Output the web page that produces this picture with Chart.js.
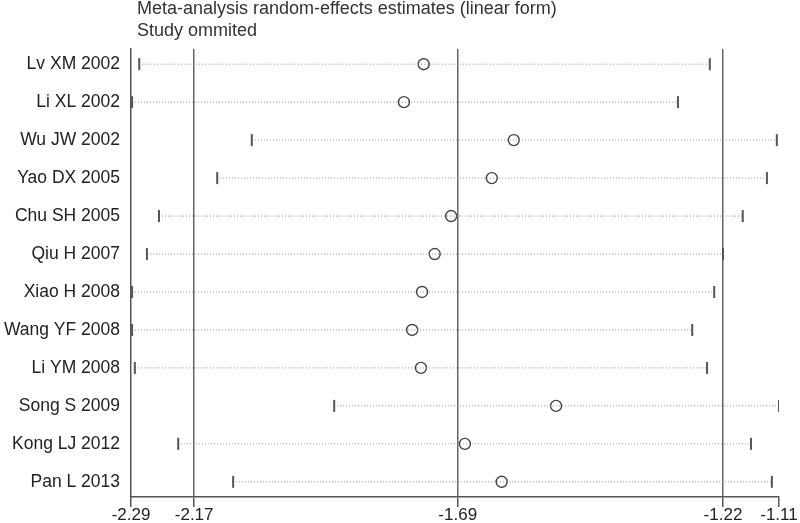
<!DOCTYPE html>
<html>
<head>
<meta charset="utf-8">
<script src="https://cdn.jsdelivr.net/npm/chart.js@4/dist/chart.umd.min.js"></script>
<style>
  html, body { margin: 0; padding: 0; background: #fff; }
  canvas { display: block; }
</style>
</head>
<body>
<canvas id="infChart" width="800" height="523"></canvas>
<script>
// Influence analysis: estimate with one study omitted
const studies = [
    "Lv XM 2002", "Li XL 2002", "Wu JW 2002", "Yao DX 2005",
    "Chu SH 2005", "Qiu H 2007", "Xiao H 2008", "Wang YF 2008",
    "Li YM 2008", "Song S 2009", "Kong LJ 2012", "Pan L 2013"
];
const lowerCI = [-2.275, -2.288, -2.070, -2.133, -2.239, -2.261, -2.288, -2.288, -2.283, -1.920, -2.204, -2.104];
const estimates = [-1.757, -1.793, -1.593, -1.633, -1.707, -1.737, -1.760, -1.778, -1.762, -1.516, -1.682, -1.615];
const upperCI = [-1.236, -1.294, -1.114, -1.132, -1.176, -1.212, -1.228, -1.268, -1.241, -1.110, -1.161, -1.123];

// x axis: ends, overall lower CI, overall estimate, overall upper CI
const tickValues = [-2.29, -2.175, -1.695, -1.212, -1.11];
const tickLabels = ["-2.29", "-2.17", "-1.69", "-1.22", "-1.11"];

const titleLines = ["Meta-analysis random-effects estimates (linear form)", "Study ommited"];

const FONT = '"Liberation Sans", Arial, sans-serif';

// one dotted line per study, with end caps
const ciSets = studies.map((name, i) => ({
    label: name,
    data: [{ x: lowerCI[i], y: i + 1 }, { x: upperCI[i], y: i + 1 }],
    borderColor: "#8f8f8f",
    borderWidth: 1,
    borderDash: [1, 2],
    pointStyle: "line",
    rotation: 90,
    pointRadius: 6,
    pointBorderColor: "#555",
    pointBorderWidth: 2,
    fill: false
}));

const estSet = {
    label: "Estimate",
    data: estimates.map((v, i) => ({ x: v, y: i + 1 })),
    showLine: false,
    pointStyle: "circle",
    pointRadius: 5.5,
    pointBorderColor: "#444",
    pointBorderWidth: 1.4,
    pointBackgroundColor: "rgba(0,0,0,0)"
};

const headerPlugin = {
    id: "header",
    afterDraw(chart) {
        const ctx = chart.ctx;
        ctx.save();
        ctx.font = "18px " + FONT;
        ctx.fillStyle = "#333";
        ctx.textAlign = "left";
        ctx.textBaseline = "alphabetic";
        ctx.fillText(titleLines[0], 137, 14);
        ctx.fillText(titleLines[1], 137, 36);
        ctx.restore();
    }
};

new Chart(document.getElementById("infChart").getContext("2d"), {
    type: "line",
    data: { datasets: [...ciSets, estSet] },
    plugins: [headerPlugin],
    options: {
        responsive: false,
        animation: false,
        events: [],
        layout: { padding: { top: 49, right: 21, left: 0, bottom: 0 } },
        plugins: {
            legend: { display: false },
            tooltip: { enabled: false },
            title: { display: false }
        },
        scales: {
            x: {
                type: "linear",
                min: -2.29,
                max: -1.11,
                afterBuildTicks: (scale) => {
                    scale.ticks = tickValues.map(v => ({ value: v }));
                },
                afterFit: (scale) => { scale.height = 26; },
                grid: {
                    color: (c) => (c.index > 0 && c.index < tickValues.length - 1) ? "#666" : "rgba(0,0,0,0)",
                    lineWidth: 1.5,
                    tickColor: "#555",
                    tickLength: 10,
                    drawTicks: true
                },
                border: { display: true, color: "#555", width: 1.5 },
                ticks: {
                    autoSkip: false,
                    maxRotation: 0,
                    padding: 0,
                    color: "#222",
                    font: { family: FONT, size: 17, lineHeight: 1 },
                    callback: (v, i) => tickLabels[i]
                }
            },
            y: {
                type: "linear",
                reverse: true,
                min: 0.6,
                max: 12.4,
                afterBuildTicks: (scale) => {
                    scale.ticks = studies.map((_, i) => ({ value: i + 1 }));
                },
                afterFit: (scale) => { scale.width = 131; },
                grid: { display: false, drawTicks: false },
                border: { display: true, color: "#555", width: 1.5 },
                ticks: {
                    autoSkip: false,
                    padding: 11,
                    color: "#222",
                    font: { family: FONT, size: 17.5 },
                    callback: (v) => studies[Math.round(v) - 1]
                }
            }
        }
    }
});
</script>
</body>
</html>
